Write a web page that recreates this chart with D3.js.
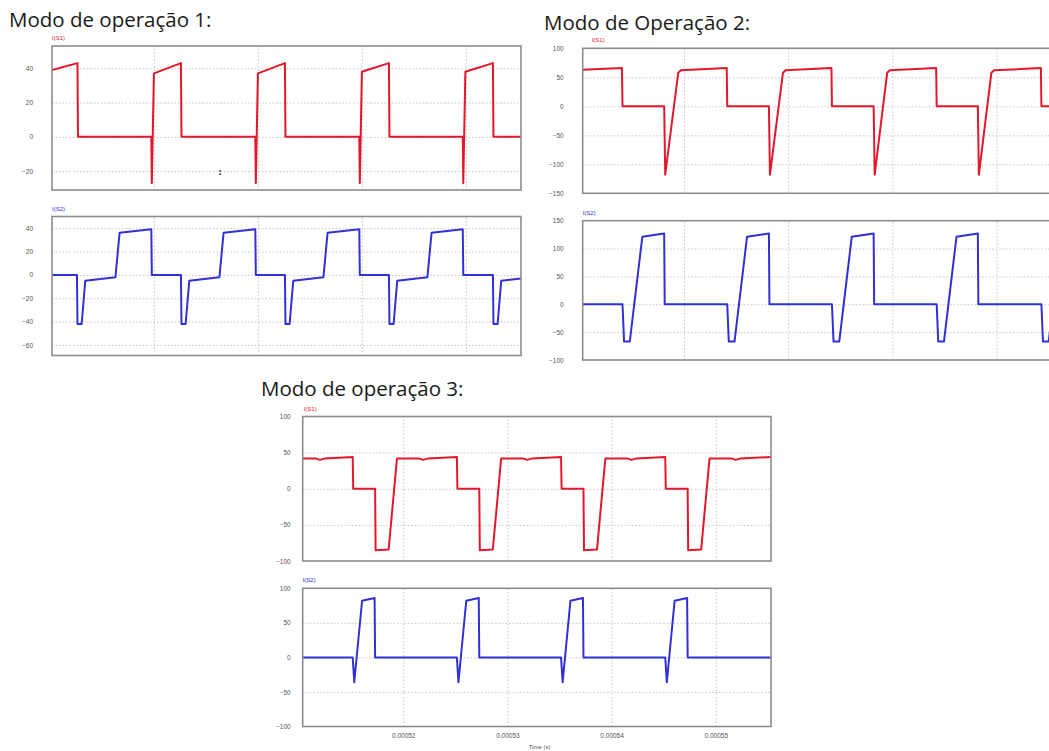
<!DOCTYPE html>
<meta charset="utf-8">
<script src="https://cdn.jsdelivr.net/npm/d3@7"></script>
<style>
body { margin: 0; background: #fff; }
.title { font-family: "Open Sans", sans-serif; font-size: 20.5px; fill: #1a1a1a; }
.tick text { font-family: "Liberation Sans", Arial, sans-serif; font-size: 6.5px; fill: #555; }
.grid line { stroke: #b8b8b8; stroke-width: 0.8px; stroke-dasharray: 1.5,2; }
.grid path, .ylab path, .xlab path { display: none; }
.frame { fill: none; stroke: #8c8c8c; stroke-width: 1.6px; }
.trace { fill: none; stroke-width: 2px; stroke-linejoin: round; }
.sig { font-family: "Liberation Sans", Arial, sans-serif; font-size: 6px; }
</style>
<body>
<script>

// time in microseconds, current in A
var gridTimes = [520, 530, 540, 550];

// Modo 1
var m1Ticks1 = [-20, 0, 20, 40];
var m1Ticks2 = [-60, -40, -20, 0, 20, 40];
var m1S1 = [[510.2,39],[512.65,43],[512.7,0],[519.75,0],[519.8,-27],[520.0,37],[522.6,43],[522.65,0],
  [529.75,0],[529.8,-27],[530.0,37],[532.6,43],[532.65,0],[539.75,0],[539.8,-27],[540.0,38],[542.6,43],
  [542.65,0],[549.7,0],[549.75,-27],[549.95,38],[552.6,43],[552.65,0],[555.3,0]];
var m1S2 = [[510.2,0],[512.6,0],[512.65,-42],[513.05,-42],[513.4,-5],[516.3,-2],[516.7,36],[519.75,39],[519.8,0],
  [522.6,0],[522.65,-42],[523.05,-42],[523.4,-5],[526.3,-2],[526.7,36],[529.75,39],[529.8,0],
  [532.6,0],[532.65,-42],[533.05,-42],[533.4,-5],[536.3,-2],[536.7,36],[539.75,39],[539.8,0],
  [542.6,0],[542.65,-42],[543.05,-42],[543.4,-5],[546.3,-2],[546.7,36],[549.7,39],[549.75,0],
  [552.6,0],[552.65,-42],[553.05,-42],[553.4,-5],[555.3,-3]];

// Modo 2
var m2Ticks1 = [-150, -100, -50, 0, 50, 100];
var m2Ticks2 = [-100, -50, 0, 50, 100, 150];
var m2S1 = [[510.28,63],[514.05,66],[514.1,0],[518.1,0],[518.2,-118],[519.45,58],[519.7,62],[524.1,66],[524.15,0],
  [528.15,0],[528.25,-118],[529.5,58],[529.75,62],[534.15,66],[534.2,0],[538.2,0],[538.3,-118],[539.5,58],
  [539.75,62],[544.2,66],[544.25,0],[548.2,0],[548.3,-118],[549.5,58],[549.75,62],[554.25,66],[554.3,0],[555.7,0]];
var m2S2 = [[510.28,0],[514.1,0],[514.25,-67],[514.8,-67],[516.0,121],[518.1,127],[518.15,0],
  [524.15,0],[524.3,-67],[524.85,-67],[526.05,121],[528.15,127],[528.2,0],
  [534.2,0],[534.35,-67],[534.9,-67],[536.1,121],[538.2,127],[538.25,0],
  [544.25,0],[544.4,-67],[544.95,-67],[546.15,121],[548.2,127],[548.25,0],
  [554.3,0],[554.45,-67],[555.0,-67],[555.7,45]];

// Modo 3
var m3Ticks = [-100, -50, 0, 50, 100];
var m3S1 = [[510.35,42],[511.6,42],[512.0,40],[512.5,42],[515.15,44],[515.2,0],[517.3,0],[517.35,-85],[518.6,-84],[519.4,42],
  [521.5,42],[521.9,40],[522.4,42],[525.15,44],[525.2,0],[527.3,0],[527.35,-85],[528.6,-84],[529.4,42],
  [531.5,42],[531.9,40],[532.4,42],[535.15,44],[535.2,0],[537.3,0],[537.35,-85],[538.6,-84],[539.4,42],
  [541.5,42],[541.9,40],[542.4,42],[545.15,44],[545.2,0],[547.3,0],[547.35,-85],[548.6,-84],[549.4,42],
  [551.5,42],[551.9,40],[552.4,42],[555.3,44]];
var m3S2 = [[510.35,0],[515.15,0],[515.3,-36],[516.05,82],[517.25,86],[517.3,0],
  [525.15,0],[525.3,-36],[526.05,82],[527.25,86],[527.3,0],
  [535.15,0],[535.3,-36],[536.05,82],[537.25,86],[537.3,0],
  [545.15,0],[545.3,-36],[546.05,82],[547.25,86],[547.3,0],[555.3,0]];

var titles = ["Modo de operação 1:", "Modo de Operação 2:", "Modo de operação 3:"];

var red = "#e3172b", blue = "#3030d4";

var svg = d3.select("body").append("svg")
    .attr("width", 1049)
    .attr("height", 751);

var clipId = 0;

function panel(o) {
  var x = d3.scaleLinear().domain(o.t).range([o.left, o.right]);
  var y = d3.scaleLinear().domain(o.v).range([o.bottom, o.top]);
  var g = svg.append("g");
  var w = o.right - o.left, h = o.bottom - o.top;

  // grid
  g.append("g").attr("class", "grid")
    .attr("transform", "translate(0," + o.bottom + ")")
    .call(d3.axisBottom(x).tickValues(gridTimes).tickSize(-h).tickFormat(""));
  g.append("g").attr("class", "grid")
    .attr("transform", "translate(" + o.left + ",0)")
    .call(d3.axisLeft(y).tickValues(o.ticks.filter(function(d) { return y(d) > o.top + 2 && y(d) < o.bottom - 2; }))
      .tickSize(-w).tickFormat(""));

  // tick labels
  g.append("g").attr("class", "ylab")
    .attr("transform", "translate(" + o.left + ",0)")
    .call(d3.axisLeft(y).tickValues(o.ticks).tickSize(0).tickPadding(o.pad))
    .selectAll("line").remove();

  if (o.xlabels) {
    g.append("g").attr("class", "xlab")
      .attr("transform", "translate(0," + o.bottom + ")")
      .call(d3.axisBottom(x).tickValues(gridTimes).tickSize(0).tickPadding(7)
        .tickFormat(function(d) { return d3.format(".5f")(d * 1e-6); }))
      .selectAll("line").remove();
    g.append("text").attr("class", "sig")
      .attr("x", x(533.1)).attr("y", o.bottom + 22)
      .attr("fill", "#555").attr("text-anchor", "middle")
      .text("Time (s)");
  }

  var id = "clip" + (clipId++);
  g.append("clipPath").attr("id", id)
    .append("rect").attr("x", o.left).attr("y", o.top).attr("width", w).attr("height", h);

  var line = d3.line()
    .x(function(d) { return x(d[0]); })
    .y(function(d) { return y(d[1]); });

  g.append("path")
    .datum(o.data)
    .attr("class", "trace")
    .attr("clip-path", "url(#" + id + ")")
    .attr("stroke", o.color)
    .attr("d", line);

  g.append("rect").attr("class", "frame")
    .attr("x", o.left).attr("y", o.top).attr("width", w).attr("height", h);

  g.append("text").attr("class", "sig")
    .attr("x", o.left + (o.labDx || 0)).attr("y", o.top - 6)
    .attr("fill", o.color)
    .text(o.label);

  return {x: x, y: y, g: g};
}

// titles
svg.append("text").attr("class", "title").attr("x", 9).attr("y", 27).text(titles[0]);
svg.append("text").attr("class", "title").attr("x", 544).attr("y", 30).text(titles[1]);
svg.append("text").attr("class", "title").attr("x", 261).attr("y", 396).text(titles[2]);

// Modo 1
var p1 = panel({left: 52, right: 521, top: 46, bottom: 190, t: [510.2, 555.3], v: [-31, 53],
  ticks: m1Ticks1, data: m1S1, color: red, label: "I(S1)", pad: 19});
panel({left: 52, right: 521, top: 216.5, bottom: 355.5, t: [510.2, 555.3], v: [-69, 50],
  ticks: m1Ticks2, data: m1S2, color: blue, label: "I(S2)", pad: 19});

// small cursor mark in the first plot
p1.g.append("text")
  .attr("x", p1.x(526.35)).attr("y", p1.y(-22))
  .attr("text-anchor", "middle")
  .style("font-family", "DejaVu Sans").style("font-size", "9px").style("font-weight", "bold")
  .attr("fill", "#333")
  .text(":");

// Modo 2
panel({left: 582.7, right: 1056, top: 48.3, bottom: 193.3, t: [510.28, 555.7], v: [-150, 100],
  ticks: m2Ticks1, data: m2S1, color: red, label: "I(S1)", labDx: 9, pad: 19});
panel({left: 582.7, right: 1056, top: 220.7, bottom: 360, t: [510.28, 555.7], v: [-100, 150],
  ticks: m2Ticks2, data: m2S2, color: blue, label: "I(S2)", labDx: 0, pad: 19});

// Modo 3
panel({left: 302.7, right: 771, top: 416.5, bottom: 561, t: [510.35, 555.3], v: [-100, 100],
  ticks: m3Ticks, data: m3S1, color: red, label: "I(S1)", labDx: 1, pad: 12});
panel({left: 302.7, right: 771, top: 588.3, bottom: 726.5, t: [510.35, 555.3], v: [-100, 100],
  ticks: m3Ticks, data: m3S2, color: blue, label: "I(S2)", labDx: 0, pad: 12, xlabels: true});

</script>
</body>
